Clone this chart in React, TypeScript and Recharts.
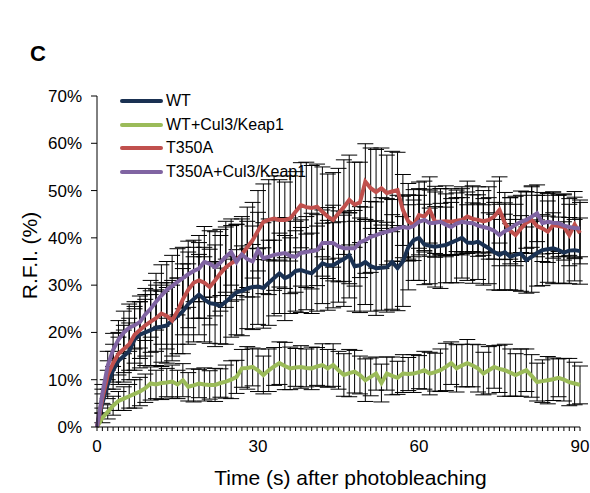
import { LineChart, Line, XAxis, YAxis, ErrorBar, Label } from "recharts";

// time after photobleaching (s)
const times = [
  0, 1, 2, 3, 4, 5, 6, 7, 8, 9, 10, 11, 12, 13, 14, 15, 16, 17, 18, 19, 20,
  21, 22, 23, 24, 25, 26, 27, 28, 29, 30, 31, 32, 33, 34, 35, 36, 37, 38, 39, 40,
  41, 42, 43, 44, 45, 46, 47, 48, 49, 50, 51, 52, 53, 54, 55, 56, 57, 58, 59, 60,
  61, 62, 63, 64, 65, 66, 67, 68, 69, 70, 71, 72, 73, 74, 75, 76, 77, 78, 79, 80,
  81, 82, 83, 84, 85, 86, 87, 88, 89, 90,
];

const xLabels = [0, 30, 60, 90];
const yTicks = [0, 10, 20, 30, 40, 50, 60, 70];

// R.F.I. (%) means
const wt = [
  0, 5, 9, 12, 14, 15, 16, 18.5, 19.5, 20, 20.5,
  21, 21.2, 21.5, 22.5, 23.5, 24.5, 26, 27, 28, 27,
  26.2, 26, 25.6, 26.5, 27.5, 28.5, 28.8, 29.3, 29.6, 29.7,
  29.4, 30.5, 31.5, 32.5, 31.5, 32, 33, 33.2, 32.8, 32.5,
  33.5, 34.6, 34.2, 34.2, 34.9, 35.5, 36.3, 34, 34.2, 34.9,
  34, 33.6, 33.7, 33.8, 34.9, 33.6, 35, 38, 39.5, 40,
  38.6, 38.3, 38.1, 38.3, 38.5, 39, 39.5, 40, 39, 38.9,
  39.2, 38.5, 37.8, 37, 36.4, 37, 36, 36.4, 36.7, 35.3,
  36, 36.8, 37.4, 37.6, 37.8, 37.4, 36.9, 37.3, 37.4, 37.2,
];
const wtCul3 = [
  0, 1.9, 3.2, 4.5, 5.5, 6, 6.5, 7, 7.5, 8.2, 9.2,
  9, 9.3, 9.4, 9.6, 9, 9.9, 8.5, 8.8, 9.2, 9,
  8.9, 8.9, 9.3, 9.6, 10, 10.6, 12.4, 12.5, 12.7, 12,
  11, 12, 12.8, 13.5, 12.9, 12.4, 12.6, 12.7, 12.5, 12.4,
  12.8, 13.1, 12.4, 13.1, 12, 11, 11.4, 11.7, 11, 9.9,
  10.6, 11.3, 9.3, 11.3, 10.8, 10.4, 11.3, 11.2, 11.3, 11.6,
  12, 11.3, 11.6, 12, 12.7, 13.5, 12.4, 13, 13.5, 13,
  12.4, 11.3, 12, 12.7, 12.3, 12, 11.5, 11, 11.5, 12,
  10.8, 9.5, 9.7, 9.9, 10.1, 10.4, 10, 9.5, 9.2, 8.9,
];
const t350a = [
  0, 6, 11, 13.5, 15.5, 16.5, 17.5, 19.5, 20.5, 21.5, 22.3,
  23, 24, 23.5, 22.5, 24.5, 27, 29, 30.5, 31, 30.5,
  29.6, 31, 32.5, 33.8, 34.6, 35.3, 36.5, 38, 39.5, 41.5,
  43.4, 43.8, 44.1, 43.8, 43.8, 44.1, 45.5, 46.9, 46.5, 46.3,
  46.6, 45.5, 44.5, 43.8, 45.2, 46.5, 48, 47, 47.5, 51.9,
  50.5, 49.7, 50.5, 49.5, 49.8, 50.1, 45.9, 43.5, 42.7, 44.8,
  44.5, 45.9, 43.4, 43.4, 43.5, 43.4, 43.6, 43.8, 44.5, 44,
  43.8, 43.5, 43.8, 44.5, 45.9, 43.1, 41.5, 40.6, 42, 43.2,
  43.8, 42.5, 42, 41.3, 42.7, 42.5, 42.3, 40.6, 42.8, 41,
];
const t350aCul3 = [
  0, 7, 13, 16.3, 18.5, 20, 21, 21.5, 22.2, 23.8, 25,
  26.5, 27.8, 29, 29.8, 30.7, 31.5, 32.3, 33, 33.5, 34.9,
  34.5, 33.8, 34.8, 36, 37, 34.9, 36.5, 35.5, 35, 37.4,
  35.7, 36, 36.4, 36.6, 36.8, 36.2, 36, 36.8, 37, 37.2,
  37.4, 38.9, 38.9, 38.9, 38.2, 37.8, 37.8, 37.8, 39.1, 39.5,
  40.2, 40.6, 41, 41.3, 41.6, 42, 42.3, 42.1, 42.5, 43.4,
  43.8, 43.1, 43.2, 43.4, 42.8, 42.3, 43, 43.4, 43.2, 43.1,
  42.6, 42.3, 42, 41.5, 40.6, 41.4, 42, 42.8, 43.4, 43.8,
  44.5, 45.2, 43.1, 43.4, 43.2, 43.1, 42.6, 42.3, 42.1, 42,
];

// error bar half-widths (%)
const wtErr = [
  0, 2, 3, 4, 5, 5.5, 6, 6.5, 7, 7, 7.5,
  8, 7.5, 8, 8.5, 8, 9, 8.5, 9, 8.5, 9,
  8.5, 9, 8, 9, 8.5, 9, 9.5, 8.5, 9, 8,
  8.5, 9, 8, 8.5, 9, 8, 8.5, 9, 8, 8.5,
  9, 8.5, 9.5, 9, 8.5, 10, 9, 9.5, 10, 9,
  9.5, 10, 9, 9.5, 10, 9, 9.5, 9, 8.5, 9,
  8.5, 8, 8.5, 9, 8, 8.5, 9, 8.5, 8, 8.5,
  8, 8.5, 7.5, 8, 7.5, 8, 7, 7.5, 8, 7,
  7.5, 7, 7.5, 7, 7.5, 7, 6.5, 7, 6.5, 7,
];
const wtCul3Err = [
  0, 1, 1.5, 2, 2, 2.5, 2.5, 3, 3, 3, 3.5,
  3, 3.5, 3, 3.5, 3, 3.5, 3, 3.5, 3, 3.5,
  3, 3.5, 3, 3.5, 4, 3.5, 4, 4.5, 4, 4.5,
  4, 4.5, 4, 4.5, 5, 4.5, 4, 4.5, 4, 4.5,
  4, 4.5, 4, 4.5, 4, 4.5, 5, 4.5, 4, 4.5,
  4, 3.5, 4, 3.5, 4, 3.5, 4, 3.5, 4, 3.5,
  4, 4.5, 4, 4.5, 5, 4.5, 5, 4.5, 5, 4.5,
  5, 4.5, 5, 4.5, 5, 5.5, 5, 4.5, 5, 4.5,
  4.5, 4, 4.5, 5, 4.5, 4, 4.5, 5, 4.5, 4,
];
const t350aErr = [
  0, 2, 3, 4, 4.5, 5, 5.5, 6, 6, 6.5, 6.5,
  7, 6.5, 7, 7.5, 7, 7.5, 8, 7.5, 8, 7.5,
  8, 7.5, 8, 8.5, 8, 7.5, 8, 8.5, 8, 8.5,
  8, 8.5, 9, 8.5, 8, 9, 8.5, 9, 9.5, 9,
  9, 9.5, 9, 10, 9.5, 10, 9.5, 9, 8.5, 8,
  8.5, 9, 8.5, 8, 8.5, 8, 7.5, 8, 7.5, 7,
  7.5, 7, 7.5, 7, 7.5, 7, 6.5, 7, 7.5, 7,
  7, 6.5, 7, 7.5, 7, 6.5, 7, 6.5, 7, 6.5,
  7, 6.5, 7, 6.5, 7, 6.5, 7, 6.5, 7, 6.5,
];
const t350aCul3Err = [
  0, 2, 3, 3.5, 4, 4.5, 5, 5, 5.5, 5.5, 6,
  6, 6.5, 6, 6.5, 7, 6.5, 7, 6.5, 7, 7.5,
  7, 7.5, 7, 7.5, 7, 8, 7.5, 8, 7.5, 8,
  7.5, 8, 7.5, 7, 7.5, 8, 7.5, 7, 7.5, 8,
  7.5, 7, 7.5, 8, 7.5, 7, 7.5, 8, 7.5, 7,
  7.5, 7, 7.5, 7, 6.5, 7, 6.5, 7, 6.5, 7,
  6.5, 7, 6.5, 7, 6.5, 6, 6.5, 7, 6.5, 6,
  6.5, 6, 6.5, 6, 6.5, 6, 6.5, 6, 6.5, 6,
  6.5, 6, 6.5, 6, 6.5, 6, 6.5, 6, 6.5, 6,
];

const series = [
  { key: "wt", name: "WT", color: "#1a3152" },
  { key: "wtCul3", name: "WT+Cul3/Keap1", color: "#9bbb59" },
  { key: "t350a", name: "T350A", color: "#c0504d" },
  { key: "t350aCul3", name: "T350A+Cul3/Keap1", color: "#8064a2" },
];

const data = times.map((t, i) => ({
  t,
  wt: wt[i],
  wtErr: wtErr[i],
  wtCul3: wtCul3[i],
  wtCul3Err: wtCul3Err[i],
  t350a: t350a[i],
  t350aErr: t350aErr[i],
  t350aCul3: t350aCul3[i],
  t350aCul3Err: t350aCul3Err[i],
}));

const font = "'Liberation Sans', Arial, sans-serif";

function TimeTick(props: any) {
  const { x, y, payload } = props;
  if (!xLabels.includes(payload.value)) return <g />;
  return (
    <text x={x} y={y} dy="0.71em" textAnchor="middle" fontSize={17} fill="#000" fontFamily={font}>
      {payload.value}
    </text>
  );
}

export default function App() {
  // pinned to the page corner so the 590x493 chart fits the window exactly
  return (
    <div style={{ position: "absolute", left: 0, top: 0, width: 590, height: 493, fontFamily: font }}>
      <div style={{ position: "absolute", left: 30, top: 41, fontSize: 22, fontWeight: "bold" }}>C</div>
      <LineChart width={590} height={493} data={data} margin={{ top: 96, right: 10, bottom: 26, left: 0 }}>
        <XAxis
          dataKey="t"
          type="number"
          domain={[0, 90]}
          ticks={times}
          interval={0}
          tick={<TimeTick />}
          tickSize={4}
          tickMargin={9}
          height={40}
          stroke="#000"
          tickLine={{ stroke: "#000" }}
        >
          <Label
            value="Time (s) after photobleaching"
            position="bottom"
            offset={3}
            dx={12}
            style={{ fontSize: 21, fill: "#000", fontFamily: font }}
          />
        </XAxis>
        <YAxis
          type="number"
          domain={[0, 70]}
          ticks={yTicks}
          tickFormatter={(v) => `${v}%`}
          width={97}
          tickSize={6}
          tickMargin={9}
          stroke="#000"
          tick={{ fontSize: 17, fill: "#000", fontFamily: font }}
        >
          <Label
            value="R.F.I. (%)"
            angle={-90}
            position="insideLeft"
            offset={30}
            dy={-6}
            style={{ fontSize: 21, fill: "#000", fontFamily: font, textAnchor: "middle" }}
          />
        </YAxis>
        {series.map((s) => (
          <Line
            key={s.key + "-err"}
            dataKey={s.key}
            stroke="none"
            dot={false}
            activeDot={false}
            legendType="none"
            isAnimationActive={false}
          >
            <ErrorBar dataKey={s.key + "Err"} width={8} stroke="#000" strokeWidth={1} direction="y" />
          </Line>
        ))}
        {series.map((s) => (
          <Line
            key={s.key}
            dataKey={s.key}
            name={s.name}
            stroke={s.color}
            strokeWidth={4}
            dot={false}
            activeDot={false}
            type="linear"
            isAnimationActive={false}
          />
        ))}
      </LineChart>
      <div style={{ position: "absolute", left: 120, top: 89 }}>
        {series.map((s) => (
          <div key={s.key} style={{ display: "flex", alignItems: "center", height: 23.7, fontSize: 16 }}>
            <div style={{ width: 43, height: 4, borderRadius: 2, background: s.color, marginRight: 3 }} />
            <span>{s.name}</span>
          </div>
        ))}
      </div>
    </div>
  );
}
